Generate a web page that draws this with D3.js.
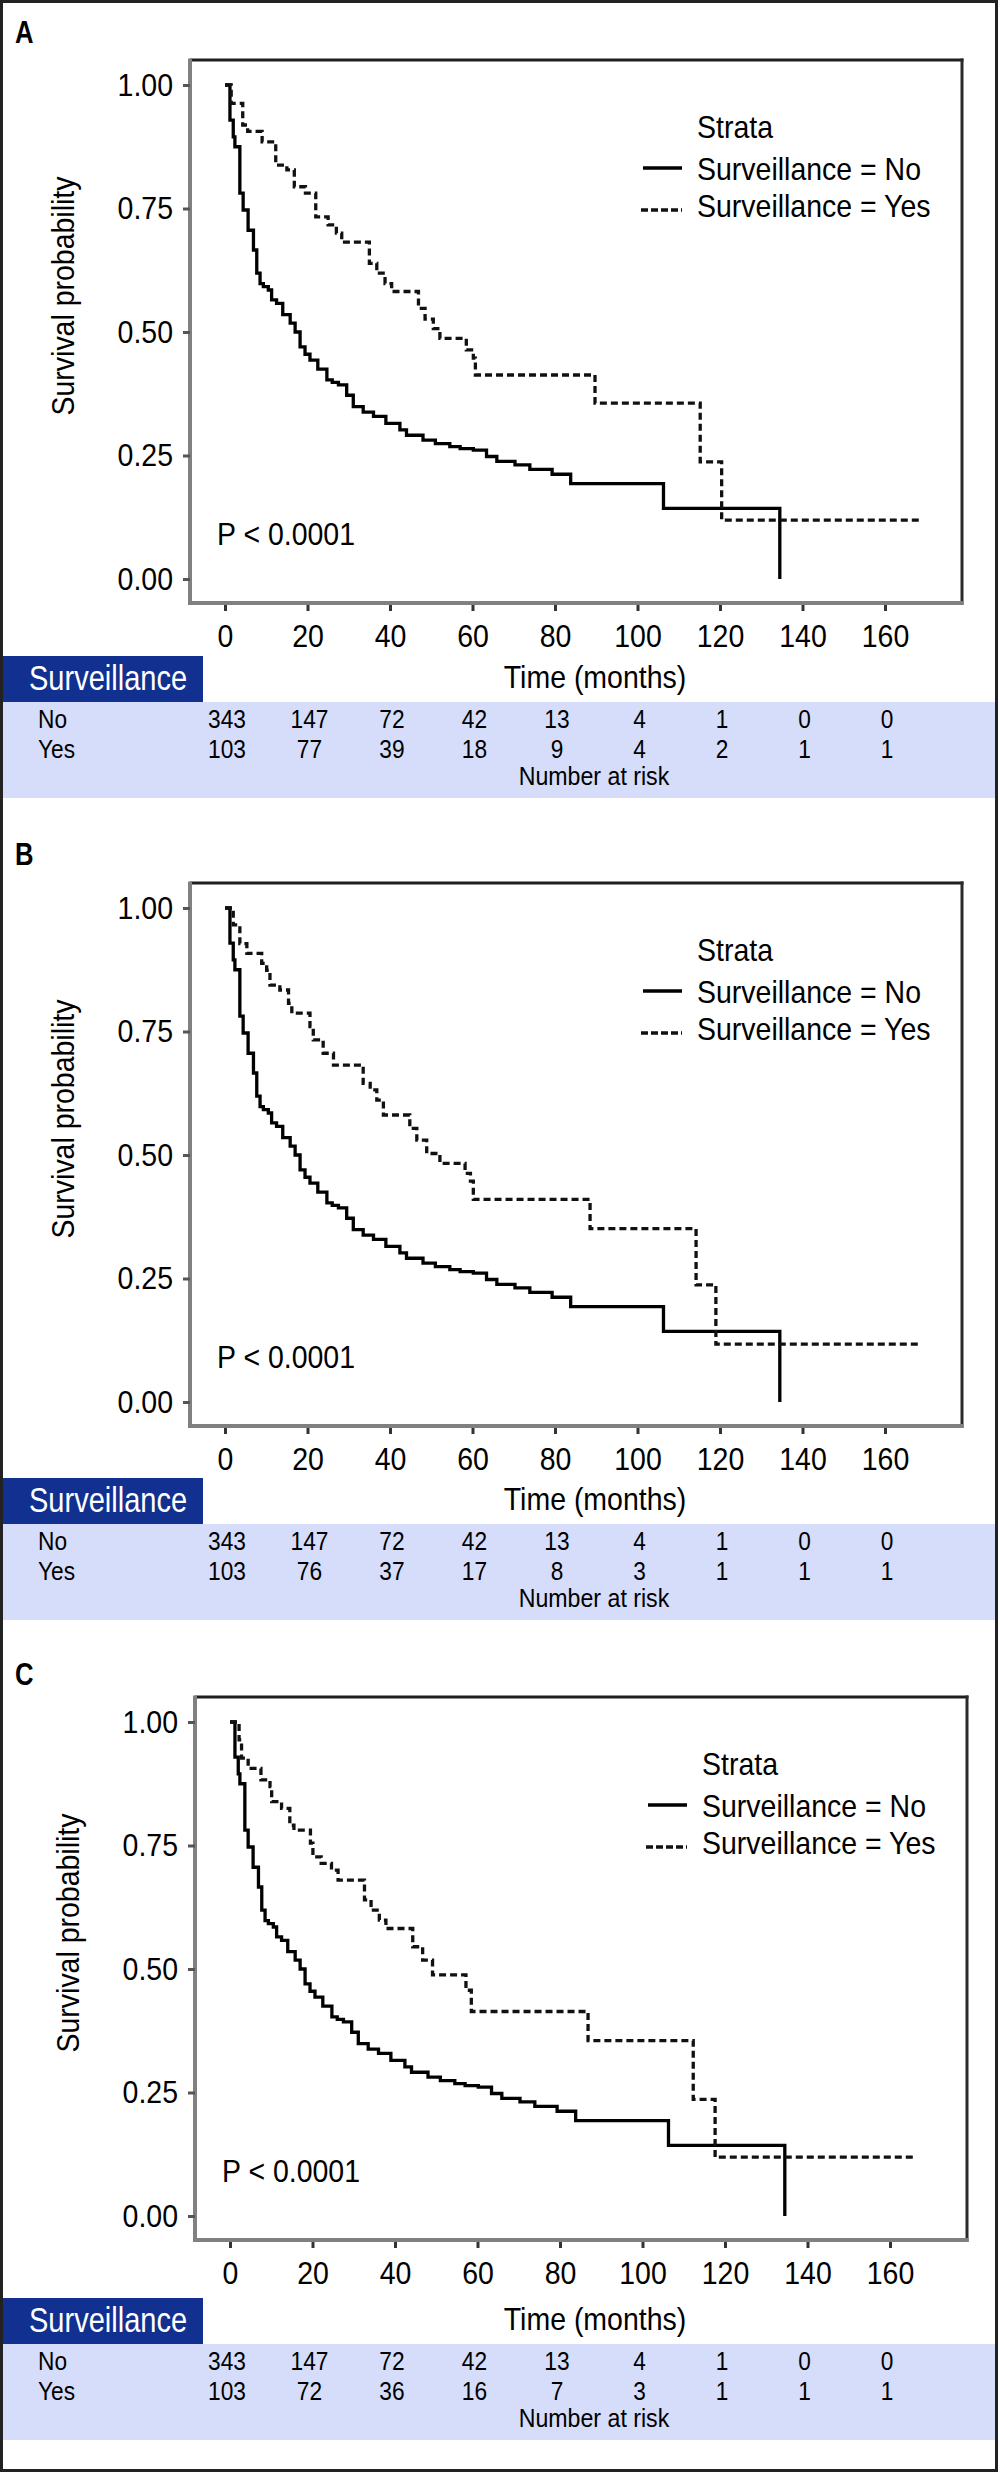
<!DOCTYPE html>
<html>
<head>
<meta charset="utf-8">
<script src="https://cdn.jsdelivr.net/npm/d3@7"></script>
<style>
  body { margin: 0; background: #fff; }
  svg { display: block; }
  text { font-family: "Liberation Sans", Arial, sans-serif; }
</style>
</head>
<body>
<div id="chart"></div>
<script>
// x ticks / number-at-risk times
var riskTimes = [0, 20, 40, 60, 80, 100, 120, 140, 160];
var yTicks = [0, 0.25, 0.5, 0.75, 1];

// number at risk, per panel
var riskNo   = [343, 147, 72, 42, 13, 4, 1, 0, 0];
var riskYesA = [103, 77, 39, 18, 9, 4, 2, 1, 1];
var riskYesB = [103, 76, 37, 17, 8, 3, 1, 1, 1];
var riskYesC = [103, 72, 36, 16, 7, 3, 1, 1, 1];

// Surveillance = No (same curve in all panels)
var noTime = [0, 1.2, 2.0, 2.4, 3.6, 4.4, 5.6, 6.9, 7.7, 8.5, 9.3, 10.5, 11.3, 12.5, 14, 15.8, 17, 18.2, 19.4, 20.6,
              22.5, 24.7, 26, 27.5, 29.5, 31.1, 33.5, 36, 39, 42.4, 44, 48, 51, 54.5, 57, 60.2, 63.4, 65.9,
              70.3, 73.9, 79.3, 83.8, 106.3, 134.5];
var noSurv = [1, 0.929, 0.895, 0.875, 0.781, 0.747, 0.706, 0.666, 0.619, 0.598, 0.592, 0.585, 0.565, 0.558, 0.535, 0.518, 0.500, 0.470, 0.455, 0.443,
              0.425, 0.403, 0.398, 0.393, 0.372, 0.349, 0.338, 0.329, 0.315, 0.302, 0.291, 0.281, 0.274, 0.268, 0.264, 0.261, 0.248, 0.238,
              0.231, 0.222, 0.212, 0.193, 0.143, 0];

// Surveillance = Yes, panel A
var yesTimeA = [0, 1.5, 4.3, 5.5, 9.0, 12.3, 15, 16.8, 19.5, 22, 25, 27, 28.3, 35, 36.8, 38.8, 40.4, 46.9, 48.5, 50.5,
                52.1, 58.5, 60.2, 60.7, 89.7, 115.2, 120.4, 168.9];
var yesSurvA = [1, 0.963, 0.919, 0.906, 0.885, 0.838, 0.828, 0.794, 0.781, 0.733, 0.717, 0.700, 0.682, 0.639, 0.619, 0.598, 0.582, 0.548, 0.526, 0.507,
                0.487, 0.464, 0.447, 0.413, 0.356, 0.237, 0.119, 0.119];
// panel B
var yesTimeB = [0, 2, 3.6, 5.3, 8.9, 10.1, 10.9, 13.3, 15.4, 16.2, 20.6, 21.4, 23.8, 26.3, 33.5, 35.2, 36.8, 38.4, 44.8, 46.5,
                48.9, 52.1, 58.2, 59.5, 60.2, 88.5, 114.2, 119, 168];
var yesSurvB = [1, 0.966, 0.928, 0.908, 0.888, 0.874, 0.844, 0.834, 0.807, 0.787, 0.760, 0.733, 0.706, 0.682, 0.645, 0.632, 0.611, 0.581, 0.554, 0.530,
                0.503, 0.483, 0.463, 0.447, 0.410, 0.351, 0.237, 0.117, 0.117];
// panel C
var yesTimeC = [0, 2.2, 2.8, 4.4, 7.5, 9.7, 10.1, 12.5, 14.5, 15.5, 19.5, 20.1, 22.1, 24.6, 26.2, 32.6, 34.2, 36.2, 37.8, 44.3,
                46.7, 49.1, 57.2, 58.5, 86.8, 112.3, 117.6, 165.9];
var yesSurvC = [1, 0.964, 0.927, 0.906, 0.883, 0.869, 0.839, 0.825, 0.791, 0.781, 0.755, 0.727, 0.714, 0.700, 0.680, 0.640, 0.619, 0.599, 0.582, 0.545,
                0.518, 0.488, 0.457, 0.414, 0.355, 0.236, 0.119, 0.119];

// panel placement: table offset, plot offset
var panels = [
  {label: "A", tdy: 0,    pdx: 0, pdy: 0,    yesT: yesTimeA, yesS: yesSurvA, riskYes: riskYesA},
  {label: "B", tdy: 822,  pdx: 0, pdy: 823,  yesT: yesTimeB, yesS: yesSurvB, riskYes: riskYesB},
  {label: "C", tdy: 1642, pdx: 5, pdy: 1637, yesT: yesTimeC, yesS: yesSurvC, riskYes: riskYesC}
];

var W = 1000, H = 2473;
var svg = d3.select("#chart").append("svg")
  .attr("width", W)
  .attr("height", H);

var x = d3.scaleLinear().domain([0, 160]).range([225, 885]);
var y = d3.scaleLinear().domain([0, 1]).range([579, 85]);

var line = d3.line()
  .x(function(d) { return x(d[0]); })
  .y(function(d) { return y(d[1]); })
  .curve(d3.curveStepAfter);

var dash = "7,4";
var big = 32, small = 25.5;

panels.forEach(function(p) {
  //table part and panel letter
  var g = svg.append("g").attr("transform", "translate(0," + p.tdy + ")");

  g.append("text")
    .attr("x", 15).attr("y", 43)
    .attr("font-size", 32).attr("font-weight", "bold")
    .attr("data-sx", 0.8)
    .text(p.label);

  g.append("rect")
    .attr("x", 3).attr("y", 656).attr("width", 200).attr("height", 46)
    .attr("fill", "#12308f");
  g.append("text")
    .attr("x", 29).attr("y", 690)
    .attr("font-size", 35).attr("fill", "#fff")
    .attr("data-sx", 0.83)
    .text("Surveillance");

  g.append("rect")
    .attr("x", 3).attr("y", 702).attr("width", 994).attr("height", 96)
    .attr("fill", "#d5ddfa");

  g.append("text")
    .attr("x", 595).attr("y", 688)
    .attr("font-size", big).attr("text-anchor", "middle")
    .text("Time (months)");

  g.append("text").attr("x", 38).attr("y", 728).attr("font-size", small).text("No");
  g.append("text").attr("x", 38).attr("y", 758).attr("font-size", small).text("Yes");

  g.append("g").selectAll("text")
    .data(riskNo)
    .enter().append("text")
      .attr("x", function(d, i) { return x(riskTimes[i]) + 2; })
      .attr("y", 728)
      .attr("font-size", small).attr("text-anchor", "middle")
      .text(function(d) { return d; });

  g.append("g").selectAll("text")
    .data(p.riskYes)
    .enter().append("text")
      .attr("x", function(d, i) { return x(riskTimes[i]) + 2; })
      .attr("y", 758)
      .attr("font-size", small).attr("text-anchor", "middle")
      .text(function(d) { return d; });

  g.append("text")
    .attr("x", 594).attr("y", 785)
    .attr("font-size", 26).attr("text-anchor", "middle")
    .text("Number at risk");

  //plot part
  var pg = svg.append("g").attr("transform", "translate(" + p.pdx + "," + p.pdy + ")");

  pg.append("text")
    .attr("transform", "translate(63,296) rotate(-90)")
    .attr("dy", "0.35em")
    .attr("font-size", big).attr("text-anchor", "middle")
    .text("Survival probability");

  // box
  pg.append("line").attr("x1", 190).attr("x2", 963.5).attr("y1", 60).attr("y2", 60)
    .attr("stroke", "#1e1e1e").attr("stroke-width", 3);
  pg.append("line").attr("x1", 962).attr("x2", 962).attr("y1", 58.5).attr("y2", 605)
    .attr("stroke", "#2a2a2a").attr("stroke-width", 3);
  pg.append("line").attr("x1", 190).attr("x2", 190).attr("y1", 58.5).attr("y2", 605)
    .attr("stroke", "#808080").attr("stroke-width", 4);
  pg.append("line").attr("x1", 188).attr("x2", 963.5).attr("y1", 603).attr("y2", 603)
    .attr("stroke", "#808080").attr("stroke-width", 4);

  // y axis
  var ya = pg.append("g")
    .attr("transform", "translate(190,0)")
    .call(d3.axisLeft(y).tickValues(yTicks).tickFormat(d3.format(".2f")).tickSize(7).tickPadding(10));
  ya.select(".domain").remove();
  ya.selectAll(".tick line").attr("stroke", "#555").attr("stroke-width", 3);
  ya.selectAll(".tick text").attr("font-size", big).attr("fill", "#000")
    .attr("font-family", null);

  // x axis
  var xa = pg.append("g")
    .attr("transform", "translate(0,605)")
    .call(d3.axisBottom(x).tickValues(riskTimes).tickSize(6).tickPadding(13));
  xa.select(".domain").remove();
  xa.selectAll(".tick line").attr("stroke", "#333").attr("stroke-width", 3);
  xa.selectAll(".tick text").attr("font-size", big).attr("fill", "#000")
    .attr("font-family", null);

  // curves
  pg.append("path")
    .datum(d3.zip(noTime, noSurv))
    .attr("d", line)
    .attr("fill", "none").attr("stroke", "#000").attr("stroke-width", 3.3);

  pg.append("path")
    .datum(d3.zip(p.yesT, p.yesS))
    .attr("d", line)
    .attr("fill", "none").attr("stroke", "#111").attr("stroke-width", 3.3)
    .attr("stroke-dasharray", dash);

  // legend
  pg.append("text").attr("x", 697).attr("y", 138).attr("font-size", big).text("Strata");
  pg.append("line").attr("x1", 643).attr("x2", 682).attr("y1", 168).attr("y2", 168)
    .attr("stroke", "#000").attr("stroke-width", 3.5);
  pg.append("text").attr("x", 697).attr("y", 180).attr("font-size", big).text("Surveillance = No");
  pg.append("line").attr("x1", 641).attr("x2", 682).attr("y1", 210).attr("y2", 210)
    .attr("stroke", "#111").attr("stroke-width", 3.5).attr("stroke-dasharray", "7,3");
  pg.append("text").attr("x", 697).attr("y", 217).attr("font-size", big).text("Surveillance = Yes");

  pg.append("text").attr("x", 217).attr("y", 545).attr("font-size", big).text("P < 0.0001");
});

// the original type is a narrow face: squeeze every label horizontally
svg.selectAll("text").each(function() {
  var t = d3.select(this);
  var k = +(t.attr("data-sx") || 0.89);
  var len = this.getComputedTextLength();
  t.attr("textLength", (len * k).toFixed(1)).attr("lengthAdjust", "spacingAndGlyphs");
});

// outer frame
svg.append("rect")
  .attr("x", 1.5).attr("y", 1.5)
  .attr("width", 995).attr("height", 2469)
  .attr("fill", "none")
  .attr("stroke", "#222").attr("stroke-width", 3);
</script>
</body>
</html>
